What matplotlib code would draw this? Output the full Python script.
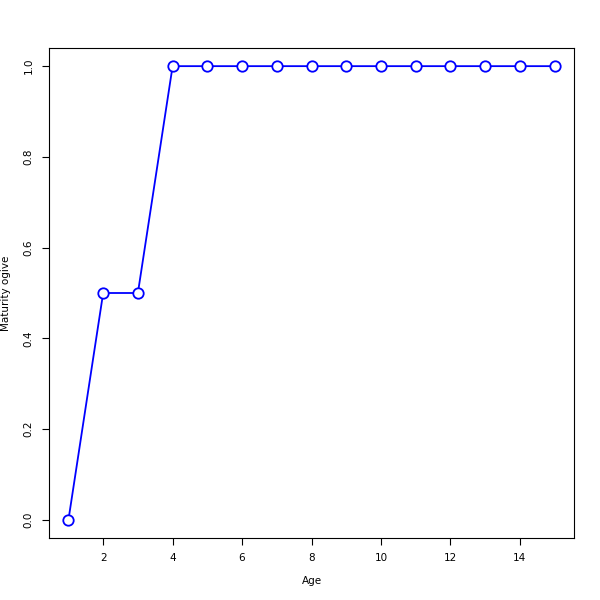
import matplotlib
matplotlib.use("Agg")
import matplotlib.pyplot as plt

ages = [1, 2, 3, 4, 5, 6, 7, 8, 9, 10, 11, 12, 13, 14, 15]
maturity = [0.0, 0.5, 0.5, 1.0, 1.0, 1.0, 1.0, 1.0, 1.0, 1.0, 1.0, 1.0, 1.0, 1.0, 1.0]
xticks = [2, 4, 6, 8, 10, 12, 14]
yticks = [0.0, 0.2, 0.4, 0.6, 0.8, 1.0]

fig = plt.figure(figsize=(6, 6), dpi=100)
ax = fig.add_axes([49/600, 62/600, 525/600, 490/600])
ax.plot(ages, maturity, color="blue", lw=1.3, marker="o", ms=7.5,
        mfc="white", mec="blue", mew=1.3, clip_on=False)
ax.set_xlim(0.44, 15.56)
ax.set_ylim(-0.04, 1.04)
ax.set_xticks(xticks)
ax.set_xticklabels([str(t) for t in xticks], fontsize=7.5)
ax.set_yticks(yticks)
ax.set_yticklabels([f"{t:.1f}" for t in yticks], fontsize=7.5, rotation=90, va="center")
ax.tick_params(direction="out", length=5, width=0.8, pad=6)
for s in ax.spines.values():
    s.set_linewidth(0.8)
ax.set_xlabel("Age", fontsize=7.5, labelpad=9)
ax.set_ylabel("Maturity ogive", fontsize=7.5, labelpad=9)
fig.savefig("out.png", dpi=100)
